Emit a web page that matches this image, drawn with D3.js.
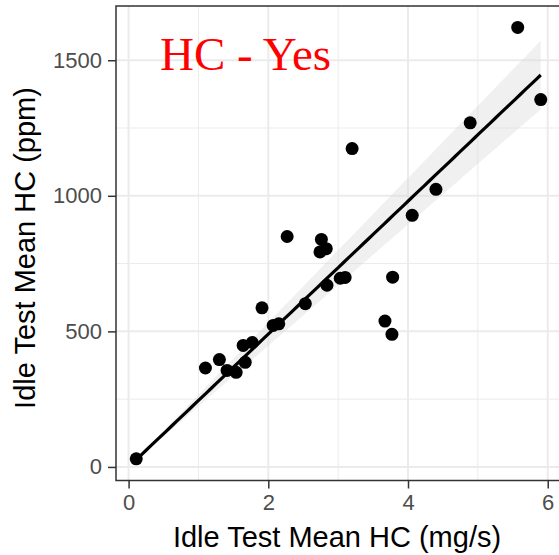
<!DOCTYPE html>
<html>
<head>
<meta charset="utf-8">
<script src="https://cdn.jsdelivr.net/npm/d3@7"></script>
<style>
  body { margin: 0; background: #fff; }
  svg text { font-family: "Liberation Sans", Arial, sans-serif; }
</style>
</head>
<body>
<div id="chart"></div>
<script>
// idle test mean HC: x in mg/s, y in ppm
const hcMgs = [
  0.11, 1.10, 1.30, 1.41, 1.54, 1.67, 1.64, 1.77, 1.91, 2.07,
  2.15, 2.53, 2.27, 2.76, 2.74, 2.83, 2.84, 3.03, 3.10, 3.20,
  3.78, 3.67, 3.77, 4.06, 4.40, 4.89, 5.57, 5.90
];
const hcPpm = [
  30, 365, 396, 356, 349, 386, 448, 459, 587, 522,
  528, 602, 850, 839, 793, 805, 670, 696, 699, 1174,
  700, 538, 489, 928, 1024, 1269, 1621, 1355
];
const xTicks = [0, 2, 4, 6];
const xMinor = [1, 3, 5];
const yTicks = [0, 500, 1000, 1500];
const yMinor = [250, 750, 1250];
const title = "HC - Yes";

const W = 559, H = 555;
const panel = { left: 116, top: 6, right: 561, bottom: 480.5 };

const svg = d3.select("#chart").append("svg")
  .attr("width", W)
  .attr("height", H);

const x = d3.scaleLinear().domain([-0.18, 6.19]).range([panel.left, panel.right]);
const y = d3.scaleLinear().domain([-50, 1700]).range([panel.bottom, panel.top]);

// grid
const grid = svg.append("g");
grid.selectAll(".xminor").data(xMinor).enter().append("line")
  .attr("x1", d => x(d)).attr("x2", d => x(d))
  .attr("y1", panel.top).attr("y2", panel.bottom)
  .attr("stroke", "#ebebeb").attr("stroke-width", 1);
grid.selectAll(".yminor").data(yMinor).enter().append("line")
  .attr("y1", d => y(d)).attr("y2", d => y(d))
  .attr("x1", panel.left).attr("x2", panel.right)
  .attr("stroke", "#ebebeb").attr("stroke-width", 1);
grid.selectAll(".xmajor").data(xTicks).enter().append("line")
  .attr("x1", d => x(d)).attr("x2", d => x(d))
  .attr("y1", panel.top).attr("y2", panel.bottom)
  .attr("stroke", "#ebebeb").attr("stroke-width", 2);
grid.selectAll(".ymajor").data(yTicks).enter().append("line")
  .attr("y1", d => y(d)).attr("y2", d => y(d))
  .attr("x1", panel.left).attr("x2", panel.right)
  .attr("stroke", "#ebebeb").attr("stroke-width", 2);

// linear fit through the origin (y ~ 0 + x) with 95% band
const pts = hcMgs.map((v, i) => ({ x: v, y: hcPpm[i] }));
const n = pts.length;
const sxx = d3.sum(pts, d => d.x * d.x);
const sxy = d3.sum(pts, d => d.x * d.y);
const slope = sxy / sxx;
const sse = d3.sum(pts, d => (d.y - slope * d.x) ** 2);
const s = Math.sqrt(sse / (n - 1));
const tq = 2.052;
const [xmin, xmax] = d3.extent(hcMgs);
const fit = d3.range(0, 81).map(i => {
  const xv = xmin + (xmax - xmin) * i / 80;
  const yv = slope * xv;
  const se = s * Math.abs(xv) / Math.sqrt(sxx);
  return { x: xv, y: yv, lo: yv - tq * se, hi: yv + tq * se };
});

svg.append("path")
  .datum(fit)
  .attr("fill", "#d9d9d9")
  .attr("fill-opacity", 0.4)
  .attr("d", d3.area().x(d => x(d.x)).y0(d => y(d.lo)).y1(d => y(d.hi)));

svg.selectAll(".dot")
  .data(pts)
  .enter().append("circle")
  .attr("cx", d => x(d.x))
  .attr("cy", d => y(d.y))
  .attr("r", 6.5)
  .attr("fill", "#000");

svg.append("path")
  .datum(fit)
  .attr("fill", "none")
  .attr("stroke", "#000")
  .attr("stroke-width", 3.2)
  .attr("d", d3.line().x(d => x(d.x)).y(d => y(d.y)));

// panel border
svg.append("rect")
  .attr("x", panel.left).attr("y", panel.top)
  .attr("width", panel.right - panel.left)
  .attr("height", panel.bottom - panel.top)
  .attr("fill", "none")
  .attr("stroke", "#333")
  .attr("stroke-width", 1.5);

// axes
const xAxis = svg.append("g")
  .attr("transform", "translate(0," + panel.bottom + ")")
  .call(d3.axisBottom(x).tickValues(xTicks).tickFormat(d3.format("d")).tickSize(8).tickPadding(6));
const yAxis = svg.append("g")
  .attr("transform", "translate(" + panel.left + ",0)")
  .call(d3.axisLeft(y).tickValues(yTicks).tickFormat(d3.format("d")).tickSize(8).tickPadding(6));
[xAxis, yAxis].forEach(g => {
  g.select(".domain").remove();
  g.selectAll(".tick line").attr("stroke", "#333").attr("stroke-width", 1.5);
  g.selectAll(".tick text")
    .attr("fill", "#4d4d4d")
    .style("font-size", "22px");
});

svg.append("text")
  .attr("x", 337).attr("y", 546.5)
  .attr("text-anchor", "middle")
  .attr("fill", "#000")
  .style("font-size", "29px")
  .text("Idle Test Mean HC (mg/s)");

svg.append("text")
  .attr("transform", "translate(35,248) rotate(-90)")
  .attr("text-anchor", "middle")
  .attr("fill", "#000")
  .style("font-size", "29px")
  .text("Idle Test Mean HC (ppm)");

svg.append("text")
  .attr("x", 160).attr("y", 70)
  .attr("fill", "#ff0000")
  .style("font-family", "'Liberation Serif', 'Times New Roman', serif")
  .style("font-size", "47px")
  .text(title);
</script>
</body>
</html>
